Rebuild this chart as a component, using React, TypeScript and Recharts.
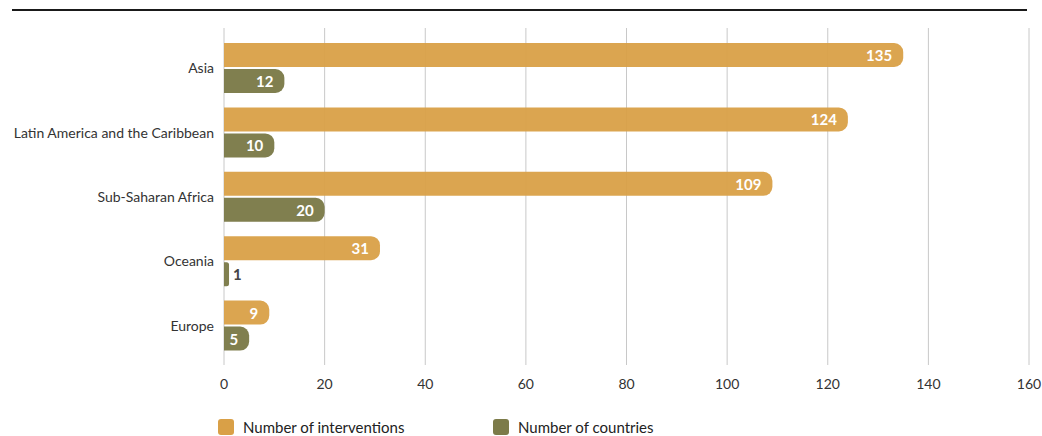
import { Bar, BarChart, CartesianGrid, LabelList, XAxis, YAxis } from "recharts";

const REGIONS = [
  "Asia",
  "Latin America and the Caribbean",
  "Sub-Saharan Africa",
  "Oceania",
  "Europe",
];
const INTERVENTIONS = [135, 124, 109, 31, 9];
const COUNTRIES = [12, 10, 20, 1, 5];
const X_TICKS = [0, 20, 40, 60, 80, 100, 120, 140, 160];

const ORANGE = "#D9A047";
const GREEN = "#7C7B49";
const FONT = "Lato, 'Open Sans', sans-serif";

const data = REGIONS.map((name, i) => ({
  name,
  interventions: INTERVENTIONS[i],
  countries: COUNTRIES[i],
}));

const ValueLabel = (props: any) => {
  const { x, y, width, height, value } = props;
  const cy = y + height / 2;
  if (width < 22) {
    return (
      <text
        x={x + width + 4}
        y={cy}
        dominantBaseline="central"
        fontSize={15}
        fontWeight={700}
        fill="#444"
        fontFamily={FONT}
      >
        {value}
      </text>
    );
  }
  return (
    <text
      x={x + width - 11}
      y={cy}
      textAnchor="end"
      dominantBaseline="central"
      fontSize={15}
      fontWeight={700}
      fill="#fff"
      fontFamily={FONT}
    >
      {value}
    </text>
  );
};

const LegendItem = ({ color, label, left }: { color: string; label: string; left: number }) => (
  <div style={{ position: "absolute", left, top: 419, display: "flex", alignItems: "center" }}>
    <span
      style={{ width: 16, height: 16, borderRadius: 3, background: color, display: "inline-block" }}
    />
    <span style={{ marginLeft: 9, fontSize: 15, lineHeight: "16px", color: "#222", fontFamily: FONT }}>
      {label}
    </span>
  </div>
);

export default function App() {
  return (
    <div
      style={{
        position: "fixed",
        left: 0,
        top: 0,
        width: 1042,
        height: 436,
        background: "#fff",
        overflow: "hidden",
      }}
    >
      <div
        style={{ position: "absolute", left: 12, top: 9, width: 1015, height: 2, background: "#1a1a1a" }}
      />
      <BarChart
        width={1042}
        height={436}
        data={data}
        layout="vertical"
        margin={{ top: 28, right: 13, bottom: 41, left: 0 }}
        barSize={24}
        barGap={2}
        barCategoryGap={7}
      >
        <CartesianGrid horizontal={false} stroke="#c8c8c8" strokeWidth={1} />
        <XAxis
          type="number"
          domain={[0, 160]}
          ticks={X_TICKS}
          axisLine={false}
          tickLine={false}
          height={30}
          tickMargin={8}
          tick={{ fontSize: 14, fill: "#333", fontFamily: FONT }}
        />
        <YAxis
          type="category"
          dataKey="name"
          width={224}
          axisLine={false}
          tickLine={false}
          tickMargin={4}
          padding={{ top: 8, bottom: 7 }}
          tick={{ fontSize: 14, fill: "#333", fontFamily: FONT }}
        />
        <Bar
          dataKey="interventions"
          fill={ORANGE}
          fillOpacity={0.95}
          radius={[0, 9, 9, 0]}
          isAnimationActive={false}
        >
          <LabelList dataKey="interventions" content={ValueLabel} />
        </Bar>
        <Bar
          dataKey="countries"
          fill={GREEN}
          fillOpacity={0.97}
          radius={[0, 9, 9, 0]}
          isAnimationActive={false}
        >
          <LabelList dataKey="countries" content={ValueLabel} />
        </Bar>
      </BarChart>
      <LegendItem color={ORANGE} label="Number of interventions" left={218} />
      <LegendItem color={GREEN} label="Number of countries" left={493} />
    </div>
  );
}
